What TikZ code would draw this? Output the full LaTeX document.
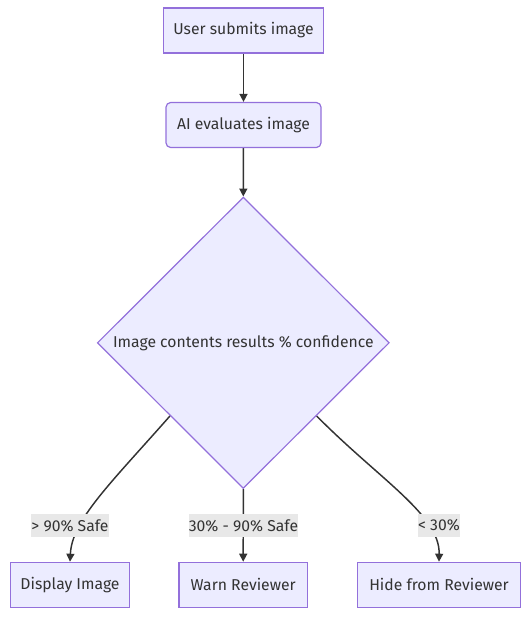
\documentclass[tikz,border=0pt]{standalone}
\usepackage{fontspec}
\setmainfont{Fira Sans}
\usetikzlibrary{shapes.geometric,arrows.meta,backgrounds}
\definecolor{nodefill}{HTML}{ECECFF}
\definecolor{nodeline}{HTML}{9370DB}
\definecolor{edgecol}{HTML}{333333}
\definecolor{txtcol}{HTML}{333333}
\definecolor{lblfill}{HTML}{E8E8E8}
\tikzset{
  px/.style={x=0.75pt,y=-0.75pt},
  txt/.style={text=txtcol,font=\fontsize{11.8pt}{14pt}\selectfont},
  procbox/.style={draw=nodeline,fill=nodefill,line width=0.9pt,inner sep=0pt,
    minimum height=33.75pt,txt},
  roundbox/.style={procbox,rounded corners=3.5pt},
  decision/.style={diamond,draw=nodeline,fill=nodefill,line width=0.9pt,inner sep=0pt,
    aspect=1,minimum width=219pt,minimum height=218.5pt,txt},
  edgelabel/.style={fill=lblfill,inner sep=0pt,minimum height=16.8pt,txt},
  flow/.style={draw=edgecol,line width=1.1pt,-{Triangle[length=6pt,width=6pt]}}
}
\begin{document}
\begin{tikzpicture}[px]
\useasboundingbox (0,0) rectangle (529,618);
\node[procbox,minimum width=120pt] (submit) at (243.5,30.5) {User submits image};
\node[roundbox,minimum width=116.25pt] (eval) at (243.5,125) {AI evaluates image};
\node[decision] (conf) at (243.3,342.8) {Image contents results \% confidence};
\node[procbox,minimum width=89pt] (disp) at (70,584.8) {Display Image};
\node[procbox,minimum width=96.2pt] (warn) at (243.2,584.8) {Warn Reviewer};
\node[procbox,minimum width=122.5pt] (hide) at (439,584.8) {Hide from Reviewer};
\node[edgelabel,minimum width=56.8pt] (l1) at (70,525.5) {> 90\% Safe};
\node[edgelabel,minimum width=77.7pt] (l2) at (243.5,525.5) {30\% - 90\% Safe};
\node[edgelabel,minimum width=30pt] (l3) at (439,525.5) {< 30\%};
\begin{scope}[on background layer]
\draw[flow] (submit) -- (eval);
\draw[flow] (eval) -- (conf.north);
\draw[flow] (conf.south west) .. controls (110,484) and (72,520) .. (disp.north);
\draw[flow] (conf.south) -- (warn.north);
\draw[flow] (conf.south east) .. controls (380,480) and (440,515) .. (hide.north);
\end{scope}
\end{tikzpicture}
\end{document}
